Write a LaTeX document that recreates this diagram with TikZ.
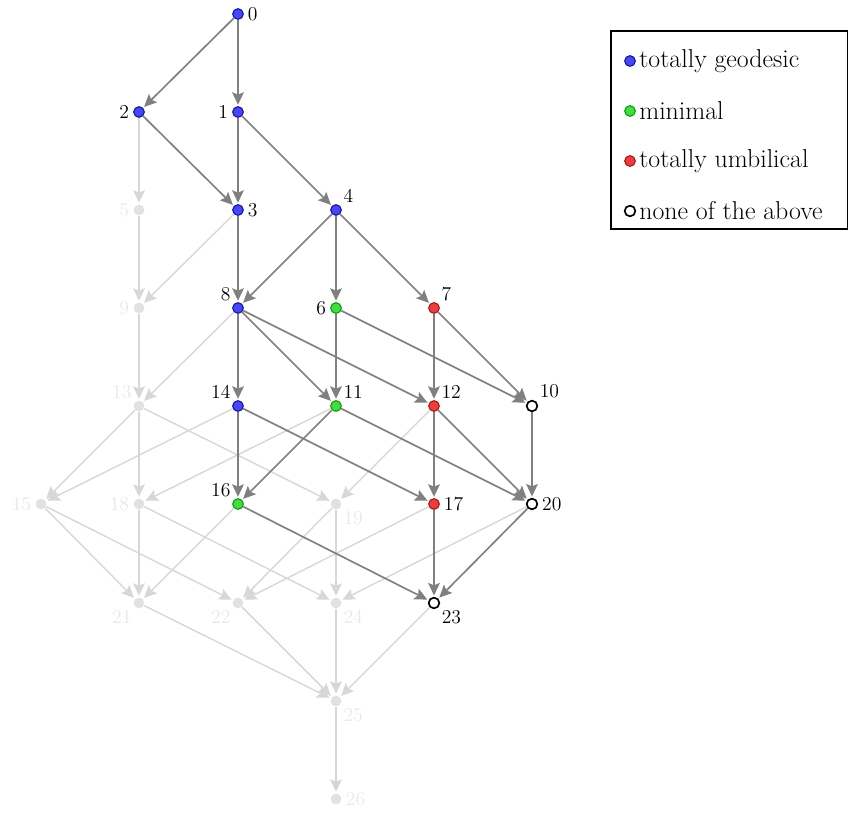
\documentclass[tikz,border=0pt]{standalone}
\usetikzlibrary{arrows.meta}
\definecolor{tgfill}{RGB}{70,70,250}
\definecolor{tgdraw}{RGB}{20,20,170}
\definecolor{mnfill}{RGB}{60,225,60}
\definecolor{mndraw}{RGB}{20,150,20}
\definecolor{tufill}{RGB}{240,60,60}
\definecolor{tudraw}{RGB}{170,20,20}
\definecolor{fnfill}{RGB}{225,225,225}
\definecolor{fnline}{RGB}{215,215,215}
\definecolor{fntext}{RGB}{232,232,232}
\definecolor{dkline}{RGB}{128,128,128}
\begin{document}
\begin{tikzpicture}[x=0.6pt,y=-0.6pt,
  vx/.style={circle,inner sep=0pt,minimum size=6.4pt,line width=0.65pt},
  tg/.style={vx,fill=tgfill,draw=tgdraw},
  mn/.style={vx,fill=mnfill,draw=mndraw},
  tu/.style={vx,fill=tufill,draw=tudraw},
  nn/.style={vx,fill=white,draw=black,line width=1pt},
  fn/.style={vx,fill=fnfill,draw=none},
  every label/.style={inner sep=1pt,font=\fontsize{11.8}{12}\selectfont},
  label distance=1.2pt,
  ld/.style={label distance=2.6pt},
  fl/.style={label={[text=fntext]#1}},
  dl/.style={label={[text=black]#1}},
  dk/.style={draw=dkline,line width=1pt,shorten >=0.8pt,-{Stealth[length=7.5pt,width=7pt,inset=1.4pt]}},
  ft/.style={draw=fnline,line width=0.85pt,shorten >=0.8pt,-{Stealth[length=7.5pt,width=7pt,inset=1.4pt]}},
  lg/.style={font=\fontsize{15.5}{17}\selectfont,anchor=west,inner sep=0pt}
]
\useasboundingbox (0,0) rectangle (849,813);
% nodes
\node[tg,dl={right:0}] (n0) at (238,14) {};
\node[tg,dl={left:1}] (n1) at (238,112) {};
\node[tg,dl={left:2}] (n2) at (139,112) {};
\node[tg,dl={right:3}] (n3) at (238,210) {};
\node[tg,ld,dl={45:4}] (n4) at (336,210) {};
\node[fn,fl={left:5}] (n5) at (139,210) {};
\node[mn,dl={left:6}] (n6) at (336,308) {};
\node[tu,ld,dl={45:7}] (n7) at (434,308) {};
\node[tg,ld,dl={135:8}] (n8) at (238,308) {};
\node[fn,fl={left:9}] (n9) at (139,308) {};
\node[nn,ld,dl={45:10}] (n10) at (532,406) {};
\node[mn,ld,dl={45:11}] (n11) at (336,406) {};
\node[tu,ld,dl={45:12}] (n12) at (434,406) {};
\node[fn,ld,fl={135:13}] (n13) at (139,406) {};
\node[tg,ld,dl={135:14}] (n14) at (238,406) {};
\node[fn,fl={left:15}] (n15) at (41,504) {};
\node[mn,ld,dl={135:16}] (n16) at (238,504) {};
\node[tu,dl={right:17}] (n17) at (434,504) {};
\node[fn,fl={left:18}] (n18) at (139,504) {};
\node[fn,ld,fl={-45:19}] (n19) at (336,504) {};
\node[nn,dl={right:20}] (n20) at (532,504) {};
\node[fn,ld,fl={-135:21}] (n21) at (139,603) {};
\node[fn,ld,fl={-135:22}] (n22) at (238,603) {};
\node[nn,ld,dl={-45:23}] (n23) at (434,603) {};
\node[fn,ld,fl={-45:24}] (n24) at (336,603) {};
\node[fn,ld,fl={-45:25}] (n25) at (336,701) {};
\node[fn,fl={right:26}] (n26) at (336,799) {};
% faint edges
\foreach \a/\b in {2/5,3/9,5/9,9/13,8/13,13/15,13/18,13/19,14/15,11/18,12/19,
  15/21,15/22,18/21,18/24,16/21,19/22,19/24,17/22,20/24,21/25,22/25,24/25,23/25,25/26}
  \draw[ft] (n\a) -- (n\b);
% dark edges
\foreach \a/\b in {0/2,0/1,2/3,1/3,1/4,3/8,4/8,4/6,4/7,8/14,8/11,8/12,6/11,6/10,7/12,7/10,
  14/16,14/17,11/16,11/20,12/17,12/20,10/20,16/23,17/23,20/23}
  \draw[dk] (n\a) -- (n\b);
% legend
\draw[line width=0.9pt] (611,31) rectangle (847.5,229);
\node[tg] (l1) at (630,61) {};
\node[lg] (t1) at (639,61) {totally geodesic};
\node[mn] (l2) at (630,111) {};
\node[lg] (t2) at (639,111) {minimal};
\node[tu] (l3) at (630,161) {};
\node[lg] (t3) at (639,161) {totally umbilical};
\node[nn] (l4) at (630,211) {};
\node[lg] (t4) at (639,211) {none of the above};
\end{tikzpicture}
\end{document}
